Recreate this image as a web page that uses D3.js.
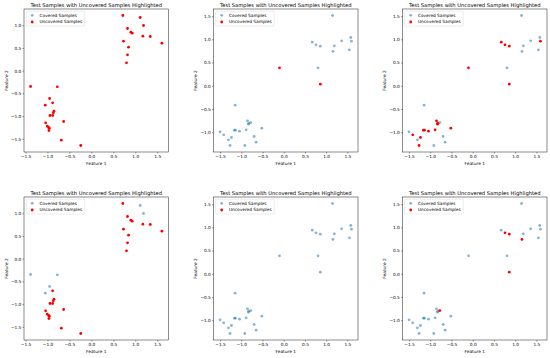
<!DOCTYPE html>
<html>
<head>
<meta charset="utf-8">
<script src="https://cdn.jsdelivr.net/npm/d3@7"></script>
<style>
  body { margin: 0; background: #fff; }
  text { font-family: "DejaVu Sans", sans-serif; fill: #000; }
</style>
</head>
<body>
<div id="chart"></div>
<script>
// test set A (left column)
var setAx = [0.716, 1.112, 1.188, 0.823, 0.899, 0.930, 1.173, 1.341, 0.731, 1.607, 0.846, 0.823, 0.800,
    -1.386, -0.776, -0.952, -0.883, -1.051, -0.853, -0.868, -0.944, -0.883, -1.043, -1.005, -0.974, -0.959, -0.967, -0.632, -0.685, -0.243];
var setAy = [1.213, 1.169, 0.993, 0.927, 0.846, 0.824, 0.758, 0.751, 0.648, 0.604, 0.516, 0.347, 0.172,
    -0.349, -0.356, -0.613, -0.708, -0.760, -0.891, -0.928, -0.987, -0.987, -1.148, -1.221, -1.251, -1.265, -1.317, -1.119, -1.529, -1.647];

// test set B (middle and right columns)
var setBx = [1.150, 1.580, 1.595, 1.365, 0.672, 0.760, 0.862, 1.192, 1.160, 1.547, 0.807, -0.100, 0.862,
    -1.146, -0.854, -0.823, -0.776, -0.831, -0.516, -0.886, -1.162, -1.138, -1.043, -1.500, -1.414, -0.697, -1.232, -1.303, -0.650, -1.264, -0.917];
var setBy = [1.514, 1.040, 0.961, 0.968, 0.940, 0.882, 0.853, 0.861, 0.739, 0.774, 0.386, 0.386, 0.034,
    -0.418, -0.756, -0.806, -0.792, -0.828, -0.914, -0.950, -0.957, -0.957, -0.978, -0.993, -1.057, -1.093, -1.115, -1.165, -1.216, -1.287, -1.287];

// indices of uncovered samples per panel
var uncovered1 = [0, 1, 2, 3, 4, 5, 6, 7, 8, 9, 10, 11, 12, 13, 14, 15, 16, 17, 18, 19, 20, 21, 22, 23, 24, 25, 26, 27, 28, 29];
var uncovered2 = [11, 12];
var uncovered3 = [2, 4, 5, 6, 11, 12, 14, 15, 17, 18, 19, 20, 21, 22, 24, 26, 29];
var uncovered4 = [0, 3, 4, 5, 6, 7, 8, 9, 10, 11, 12, 16, 18, 19, 20, 21, 22, 23, 24, 25, 26, 27, 28, 29];
var uncovered5 = [];
var uncovered6 = [5, 6, 8, 12, 16];

var xTicks = [-1.5, -1.0, -0.5, 0.0, 0.5, 1.0, 1.5];
var yTicksA = [-1.5, -1.0, -0.5, 0.0, 0.5, 1.0];
var yTicksB = [-1.0, -0.5, 0.0, 0.5, 1.0, 1.5];

var legendLabels = ["Covered Samples", "Uncovered Samples"];
var titleText = "Test Samples with Uncovered Samples Highlighted";

var panels = [
    {x: setAx, y: setAy, unc: uncovered1, yt: yTicksA},
    {x: setBx, y: setBy, unc: uncovered2, yt: yTicksB},
    {x: setBx, y: setBy, unc: uncovered3, yt: yTicksB},
    {x: setAx, y: setAy, unc: uncovered4, yt: yTicksA},
    {x: setBx, y: setBy, unc: uncovered5, yt: yTicksB},
    {x: setBx, y: setBy, unc: uncovered6, yt: yTicksB}
];

var blue = "#1f77b4", red = "#ff0000";
var colLeft = [24, 213.5, 402.5], rowTop = [9, 197];
var pw = 144.5, ph = 143;
var r = 1.4;
var fmt = d3.format(".1f");

var svg = d3.select("#chart").append("svg")
    .attr("width", 550)
    .attr("height", 358);

// matplotlib style 5% margin
function padded(vals) {
    var e = d3.extent(vals);
    var m = (e[1] - e[0]) * 0.05;
    return [e[0] - m, e[1] + m];
}

panels.forEach(function(p, i) {
    var left = colLeft[i % 3], top = rowTop[Math.floor(i / 3)];
    var g = svg.append("g").attr("transform", "translate(" + left + "," + top + ")");

    var xs = d3.scaleLinear().domain(padded(p.x)).range([0, pw]);
    var ys = d3.scaleLinear().domain(padded(p.y)).range([ph, 0]);

    var pts = p.x.map(function(v, k) {
        return {x: v, y: p.y[k], unc: p.unc.indexOf(k) >= 0};
    });

    // covered first, uncovered on top
    g.selectAll(".cov")
        .data(pts.filter(function(d) { return !d.unc; }))
        .enter().append("circle")
        .attr("class", "cov")
        .attr("cx", function(d) { return xs(d.x); })
        .attr("cy", function(d) { return ys(d.y); })
        .attr("r", r)
        .style("fill", blue)
        .style("fill-opacity", 0.55);

    g.selectAll(".unc")
        .data(pts.filter(function(d) { return d.unc; }))
        .enter().append("circle")
        .attr("class", "unc")
        .attr("cx", function(d) { return xs(d.x); })
        .attr("cy", function(d) { return ys(d.y); })
        .attr("r", r)
        .style("fill", red);

    var xAxis = g.append("g")
        .attr("transform", "translate(0," + ph + ")")
        .call(d3.axisBottom(xs).tickValues(xTicks).tickFormat(fmt).tickSize(1.5).tickPadding(1.2));
    var yAxis = g.append("g")
        .call(d3.axisLeft(ys).tickValues(p.yt).tickFormat(fmt).tickSize(1.5).tickPadding(1.2));

    [xAxis, yAxis].forEach(function(a) {
        a.select(".domain").remove();
        a.selectAll("line").attr("stroke", "#000").attr("stroke-width", 0.4);
        a.selectAll("text").style("font-size", "4.3px").style("font-family", "DejaVu Sans");
    });

    // frame
    g.append("rect")
        .attr("width", pw).attr("height", ph)
        .attr("fill", "none")
        .attr("stroke", "#000")
        .attr("stroke-width", 0.45);

    g.append("text")
        .attr("x", pw / 2).attr("y", -2.3)
        .style("text-anchor", "middle")
        .style("font-size", "5.2px")
        .text(titleText);

    g.append("text")
        .attr("x", pw / 2).attr("y", ph + 13.2)
        .style("text-anchor", "middle")
        .style("font-size", "4.3px")
        .text("Feature 1");

    g.append("text")
        .attr("transform", "translate(-16.5," + (ph / 2) + ") rotate(-90)")
        .style("text-anchor", "middle")
        .style("font-size", "4.3px")
        .text("Feature 2");

    // legend
    var lg = g.append("g").attr("transform", "translate(2.2,2.2)");
    lg.append("rect")
        .attr("width", 58.5).attr("height", 14.8)
        .attr("rx", 0.8)
        .attr("fill", "#fff").attr("fill-opacity", 0.8)
        .attr("stroke", "#d0d0d0").attr("stroke-width", 0.4);
    legendLabels.forEach(function(lab, k) {
        lg.append("circle")
            .attr("cx", 6).attr("cy", 4.1 + k * 6.7)
            .attr("r", r)
            .style("fill", k === 0 ? blue : red)
            .style("fill-opacity", k === 0 ? 0.55 : 1);
        lg.append("text")
            .attr("x", 13.2).attr("y", 4.1 + k * 6.7)
            .attr("dy", "0.35em")
            .style("font-size", "4.3px")
            .text(lab);
    });
});
</script>
</body>
</html>
